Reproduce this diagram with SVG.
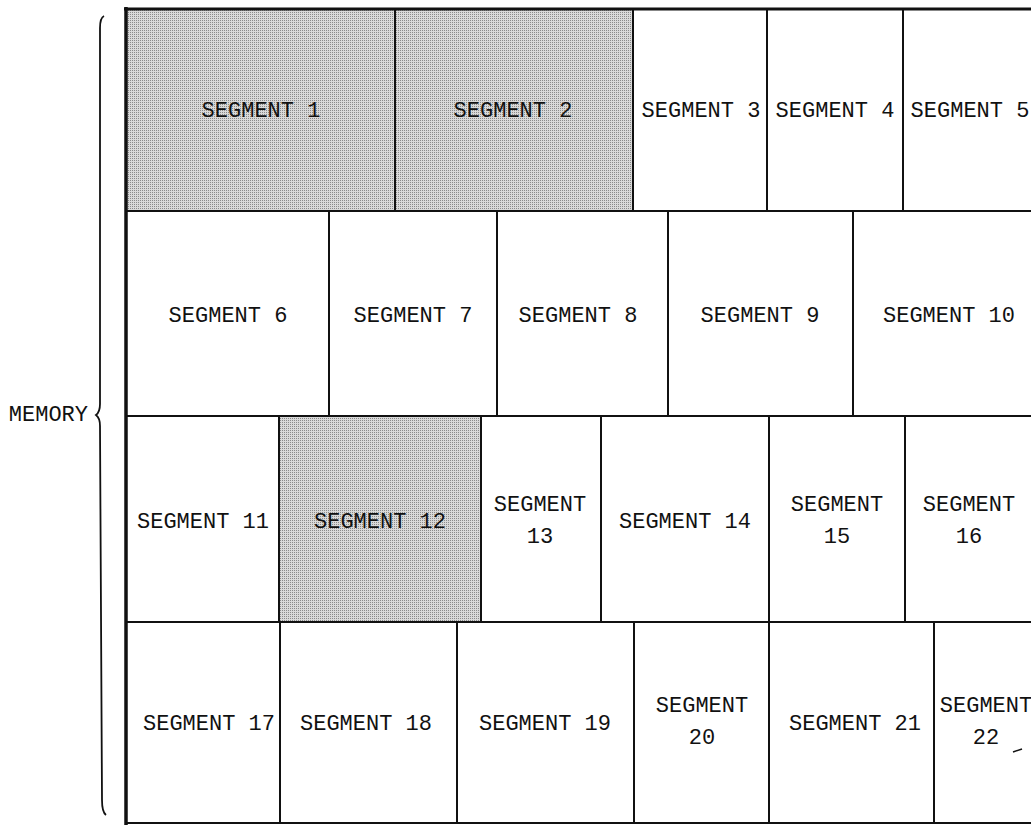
<svg xmlns="http://www.w3.org/2000/svg" width="1031" height="825" viewBox="0 0 1031 825">
<defs>
<pattern id="dots" width="2" height="2" patternUnits="userSpaceOnUse">
<rect width="2" height="2" fill="#d9d9d9"/>
<rect width="1" height="1" fill="#8a8a8a"/>
</pattern>
<style>
.cell{fill:#fff;stroke:#111;stroke-width:2}
.sh{fill:url(#dots);stroke:#111;stroke-width:2}
text{font-family:"Liberation Mono","Courier New",monospace;font-size:22px;fill:#111;text-anchor:middle}
.mem{text-anchor:end}
</style>
</defs>
<rect width="1031" height="825" fill="#fff"/>
<g id="brace">
<path d="M104,16 Q100,18 100,28 L100,404 Q100,412 96,415 Q100,418 100,426 L102,800 Q102,812 106,815" fill="none" stroke="#111" stroke-width="1.8"/>
<text class="mem" x="88" y="421">MEMORY</text>
</g>
<g id="row1">
<g id="seg1"><rect class="sh" x="126" y="9" width="269" height="202"/><text x="261" y="117">SEGMENT 1</text></g>
<g id="seg2"><rect class="sh" x="395" y="9" width="238" height="202"/><text x="513" y="117">SEGMENT 2</text></g>
<g id="seg3"><rect class="cell" x="633" y="9" width="134" height="202"/><text x="701" y="117">SEGMENT 3</text></g>
<g id="seg4"><rect class="cell" x="767" y="9" width="136" height="202"/><text x="835" y="117">SEGMENT 4</text></g>
<g id="seg5"><rect class="cell" x="903" y="9" width="140" height="202"/><text x="970" y="117">SEGMENT 5</text></g>
</g>
<g id="row2">
<g id="seg6"><rect class="cell" x="126" y="211" width="203" height="205"/><text x="228" y="322">SEGMENT 6</text></g>
<g id="seg7"><rect class="cell" x="329" y="211" width="168" height="205"/><text x="413" y="322">SEGMENT 7</text></g>
<g id="seg8"><rect class="cell" x="497" y="211" width="171" height="205"/><text x="578" y="322">SEGMENT 8</text></g>
<g id="seg9"><rect class="cell" x="668" y="211" width="185" height="205"/><text x="760" y="322">SEGMENT 9</text></g>
<g id="seg10"><rect class="cell" x="853" y="211" width="190" height="205"/><text x="949" y="322">SEGMENT 10</text></g>
</g>
<g id="row3">
<g id="seg11"><rect class="cell" x="126" y="416" width="153" height="206"/><text x="203" y="528">SEGMENT 11</text></g>
<g id="seg12"><rect class="sh" x="279" y="416" width="202" height="206"/><text x="380" y="528">SEGMENT 12</text></g>
<g id="seg13"><rect class="cell" x="481" y="416" width="120" height="206"/><text x="540" y="511">SEGMENT</text><text x="540" y="543">13</text></g>
<g id="seg14"><rect class="cell" x="601" y="416" width="168" height="206"/><text x="685" y="528">SEGMENT 14</text></g>
<g id="seg15"><rect class="cell" x="769" y="416" width="136" height="206"/><text x="837" y="511">SEGMENT</text><text x="837" y="543">15</text></g>
<g id="seg16"><rect class="cell" x="905" y="416" width="140" height="206"/><text x="969" y="511">SEGMENT</text><text x="969" y="543">16</text></g>
</g>
<g id="row4">
<g id="seg17"><rect class="cell" x="126" y="622" width="154" height="201"/><text x="209" y="730">SEGMENT 17</text></g>
<g id="seg18"><rect class="cell" x="280" y="622" width="177" height="201"/><text x="366" y="730">SEGMENT 18</text></g>
<g id="seg19"><rect class="cell" x="457" y="622" width="177" height="201"/><text x="545" y="730">SEGMENT 19</text></g>
<g id="seg20"><rect class="cell" x="634" y="622" width="135" height="201"/><text x="702" y="712">SEGMENT</text><text x="702" y="744">20</text></g>
<g id="seg21"><rect class="cell" x="769" y="622" width="165" height="201"/><text x="855" y="730">SEGMENT 21</text></g>
<g id="seg22"><rect class="cell" x="934" y="622" width="110" height="201"/><text x="986" y="712">SEGMENT</text><text x="986" y="744">22</text><path d="M1013,752 L1022,749" stroke="#111" stroke-width="1.5"/></g>
</g>
<g id="frame" fill="none" stroke="#111">
<line x1="126" y1="7" x2="126" y2="825" stroke-width="3.5"/>
<line x1="124" y1="9" x2="1031" y2="9" stroke-width="3"/>
</g>
</svg>
